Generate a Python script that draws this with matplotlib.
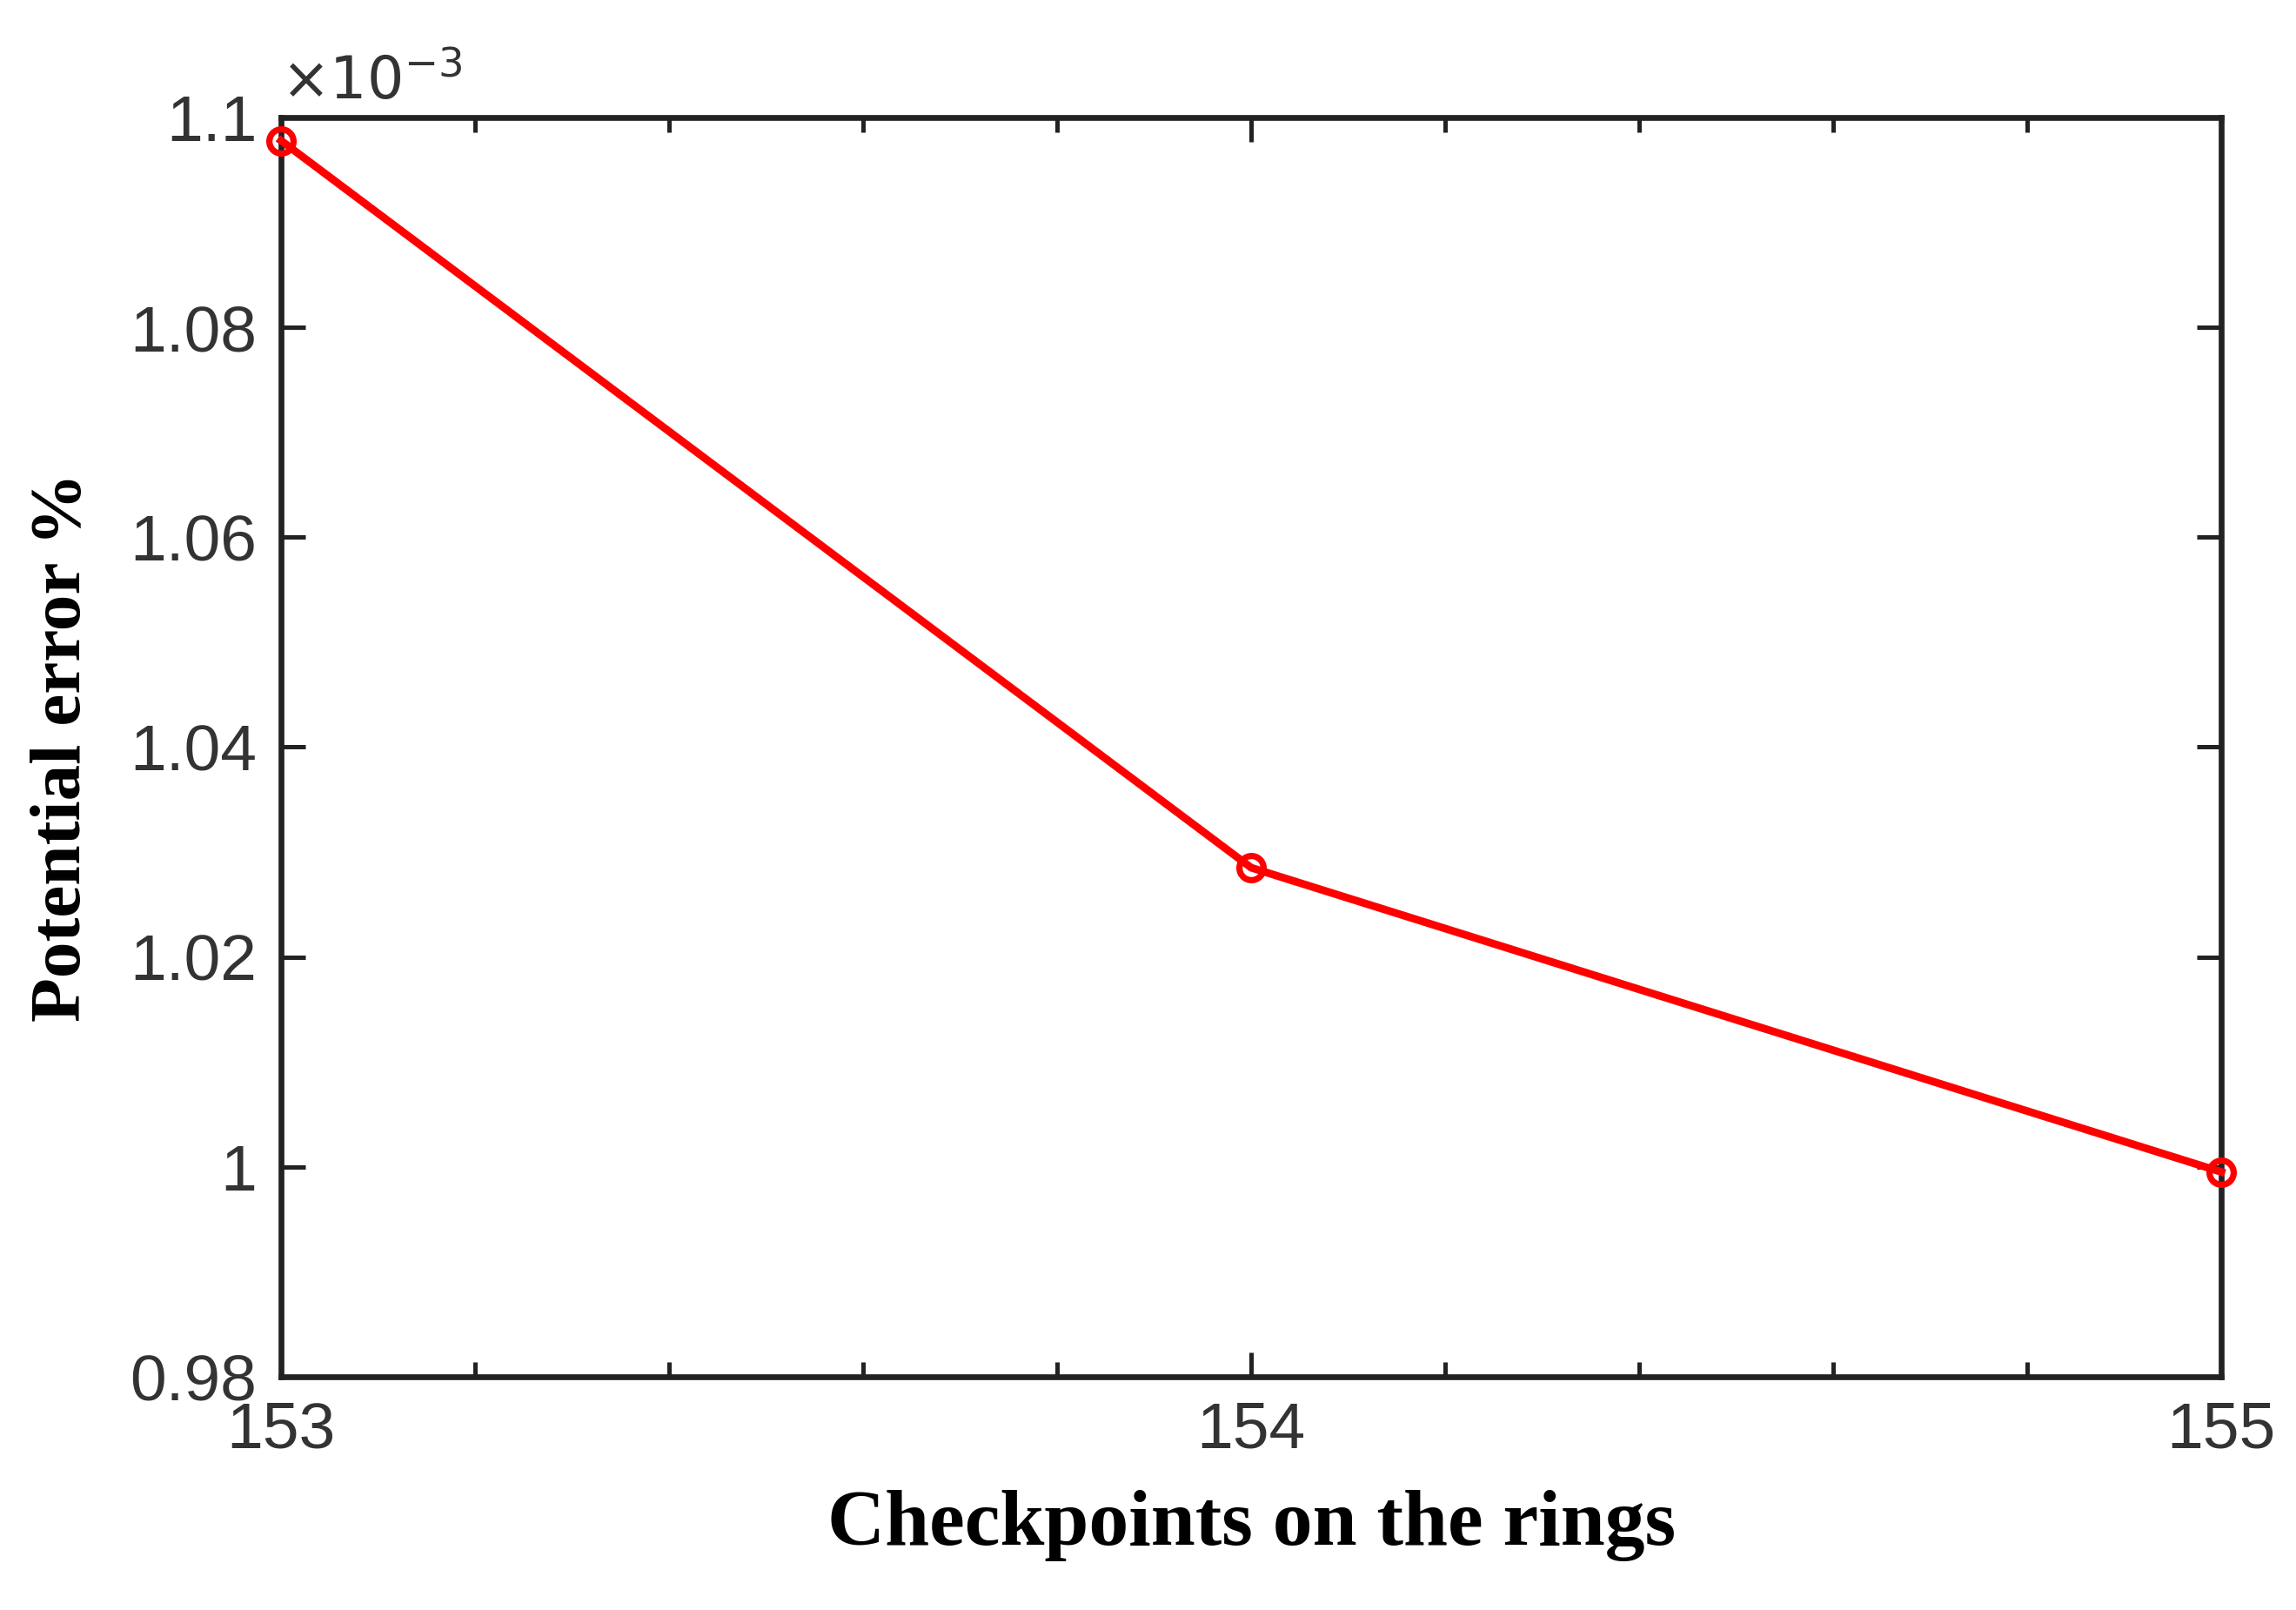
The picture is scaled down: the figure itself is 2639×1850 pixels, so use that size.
import matplotlib
matplotlib.use("Agg")
import matplotlib.pyplot as plt
from matplotlib.ticker import FuncFormatter, MultipleLocator

checkpoints = [153, 154, 155]
error_e3 = [1.0978, 1.0285, 0.9995]  # in units of 1e-3
yticks = [0.98, 1.00, 1.02, 1.04, 1.06, 1.08, 1.10]

fig = plt.figure(figsize=(13.195, 9.25), dpi=200)
ax = fig.add_axes([0.1224, 0.145, 0.8451, 0.782])
ax.plot(checkpoints, error_e3, color="red", lw=3.2, marker="o", ms=10,
        mfc="none", mec="red", mew=2.6, clip_on=False, zorder=5)
ax.set_xlim(153, 155)
ax.set_ylim(0.98, 1.10)
ax.set_xticks(checkpoints)
ax.set_yticks(yticks)
ax.xaxis.set_minor_locator(MultipleLocator(0.2))
ax.yaxis.set_major_formatter(FuncFormatter(lambda v, p: "%g" % round(v, 3)))
ax.tick_params(which="both", direction="in", top=True, right=True,
               labelsize=27, pad=10, width=1.8, colors="#222222")
ax.tick_params(which="major", length=10)
ax.tick_params(which="minor", length=6)
for lab in ax.get_xticklabels() + ax.get_yticklabels():
    lab.set_family("Liberation Sans")
    lab.set_color("#333333")
for s in ax.spines.values():
    s.set_linewidth(2.4)
    s.set_color("#222222")
ax.text(0.0, 1.005, r"$\times10^{-3}$", transform=ax.transAxes,
        fontsize=24, family="Liberation Sans", color="#333333", va="bottom")
ax.set_xlabel("Checkpoints on the rings", family="Liberation Serif",
              fontweight="bold", fontsize=33, labelpad=12)
ax.set_ylabel("Potential error %", family="Liberation Serif",
              fontweight="bold", fontsize=30, labelpad=14)
fig.savefig("out.png", dpi=200)
